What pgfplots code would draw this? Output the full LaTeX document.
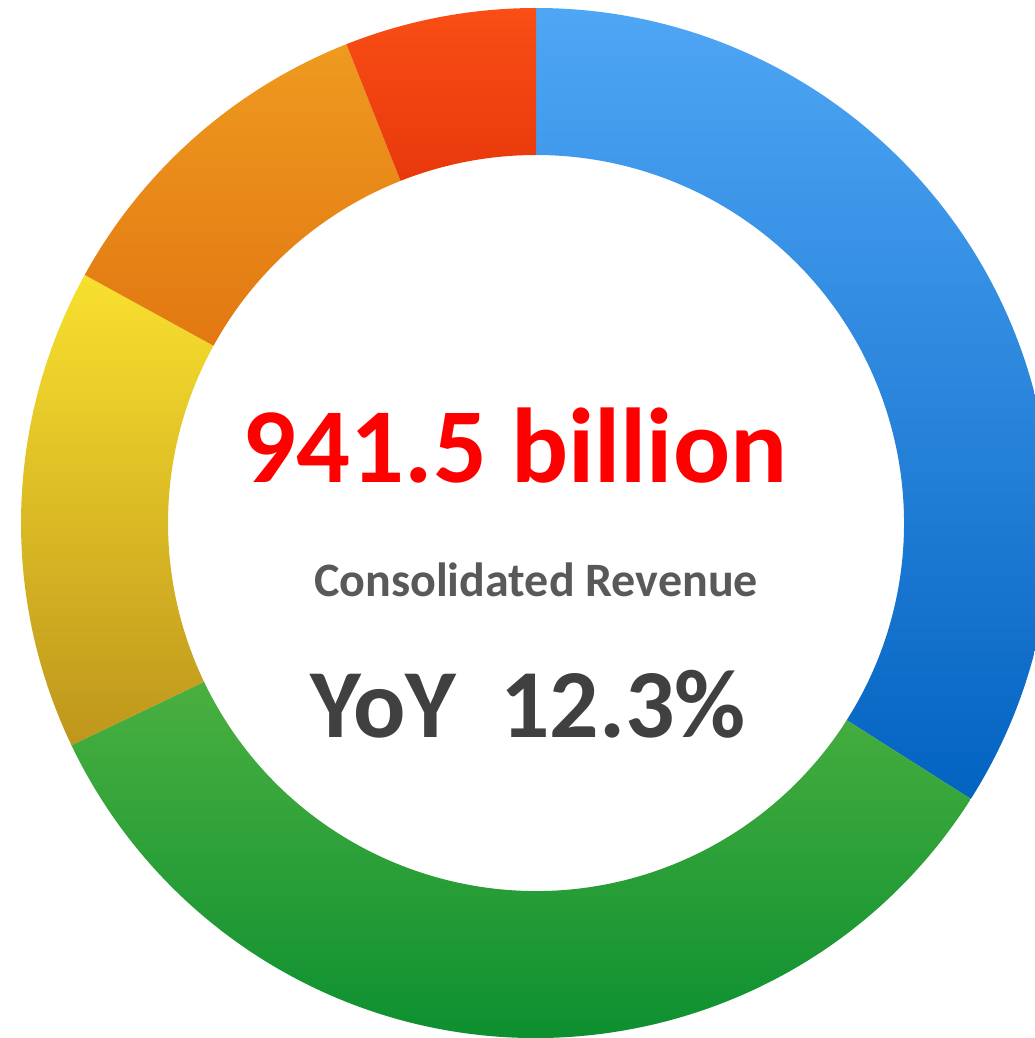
\documentclass[border=0pt]{standalone}
\usepackage{pgfplots}
\pgfplotsset{compat=1.18}
\usepackage{pgfplotstable}
\usetikzlibrary{calc}
\usepackage{fontspec}
\setmainfont{Carlito}

\definecolor{blueT}{HTML}{4FA6F5}
\definecolor{blueB}{HTML}{0363C1}
\definecolor{greenT}{HTML}{4AB040}
\definecolor{greenB}{HTML}{01892D}
\definecolor{yellowT}{HTML}{F8E02E}
\definecolor{yellowB}{HTML}{BE961C}
\definecolor{orangeT}{HTML}{EE9A1F}
\definecolor{orangeB}{HTML}{E27812}
\definecolor{redT}{HTML}{F94E15}
\definecolor{redB}{HTML}{E8380C}
\definecolor{txtgray}{HTML}{595959}
\definecolor{txtdark}{HTML}{404040}

% shares in percent, clockwise from 12 o'clock
\pgfplotstableread{
share top     bottom
34.0  blueT   blueB
33.9  greenT  greenB
15.1  yellowT yellowB
11.0  orangeT orangeB
6.0   redT    redB
}\segments

\begin{document}
\begin{tikzpicture}
\path[use as bounding box] (0,0) rectangle (258.75pt,259.5pt);
\begin{axis}[
    hide axis,
    scale only axis,
    x=0.25pt, y=0.25pt,
    xmin=0, xmax=1035,
    ymin=0, ymax=1038,
    y dir=reverse,
    clip=true,
]
\coordinate (C) at (axis cs:536,523);
\pgfplotstablegetrowsof{\segments}
\pgfmathtruncatemacro{\lastrow}{\pgfplotsretval-1}
\def\startangle{90}
\pgfplotsforeachungrouped \i in {0,...,\lastrow}{%
    \pgfplotstablegetelem{\i}{share}\of\segments \let\share\pgfplotsretval
    \pgfplotstablegetelem{\i}{top}\of\segments \let\ctop\pgfplotsretval
    \pgfplotstablegetelem{\i}{bottom}\of\segments \let\cbot\pgfplotsretval
    \pgfmathsetmacro{\endangle}{\startangle-3.6*\share}
    \edef\temp{\noexpand\shade[top color=\ctop, bottom color=\cbot]
        ($(C)+(\startangle:128.75pt)$)
        arc[start angle=\startangle, end angle=\endangle, radius=128.75pt]
        -- ($(C)+(\endangle:92pt)$)
        arc[start angle=\endangle, end angle=\startangle, radius=92pt]
        -- cycle;}
    \temp
    \global\let\startangle\endangle
}

\node[anchor=base, text=red, font=\fontsize{26.6pt}{30pt}\selectfont\bfseries]
    at (axis cs:515,482) {941.5 billion};
\node[anchor=base, text=txtgray, font=\fontsize{12pt}{14pt}\selectfont\bfseries]
    at (axis cs:536,596) {Consolidated Revenue};
\node[anchor=base, text=txtdark, font=\fontsize{24.4pt}{28pt}\selectfont\bfseries]
    at (axis cs:528,737) {YoY\ \ 12.3\%};
\end{axis}
\end{tikzpicture}
\end{document}
